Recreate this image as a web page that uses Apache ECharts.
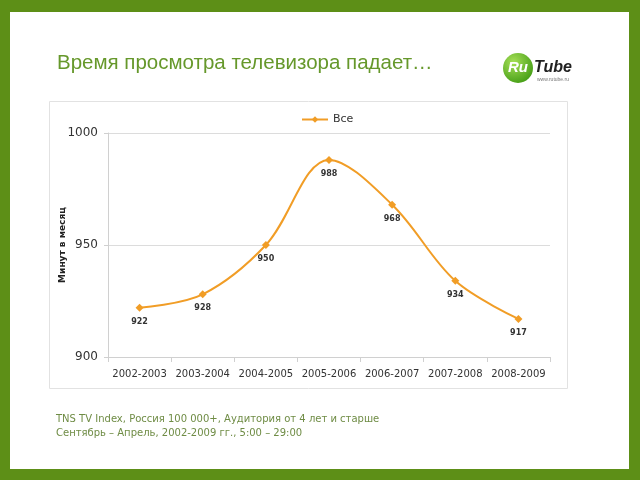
<!DOCTYPE html>
<html>
<head>
<meta charset="utf-8">
<script src="https://cdn.jsdelivr.net/npm/echarts@6/dist/echarts.min.js"></script>
<style>
  html, body { margin: 0; padding: 0; background: #5d8f17; }
  #chart { width: 640px; height: 480px; }
</style>
</head>
<body>
<div id="chart"></div>
<script>
// seasons on the x axis
var seasons = ['2002-2003', '2003-2004', '2004-2005', '2005-2006', '2006-2007', '2007-2008', '2008-2009'];
// minutes per month, all viewers
var minutes = [922, 928, 950, 988, 968, 934, 917];
var yTicks = [900, 950, 1000];

var green = '#5d8f17';
var orange = '#f19d26';

var chart = echarts.init(document.getElementById('chart'));

var option = {
  backgroundColor: green,
  animation: false,
  graphic: [
    // white page
    { type: 'rect', shape: { x: 10, y: 12, width: 619, height: 457 }, style: { fill: '#fff' }, z: -10 },
    // chart frame
    { type: 'rect', shape: { x: 49.5, y: 101.5, width: 518, height: 287 }, style: { fill: '#fff', stroke: '#e2e2e2', lineWidth: 1 }, z: -5 },
    // title
    { type: 'text', left: 57, top: 53, style: { text: 'Время просмотра телевизора падает…', fill: '#66982b', font: '20.5px "Liberation Sans", Arial, sans-serif' } },
    // y axis name
    { type: 'text', x: 63, y: 245, rotation: Math.PI / 2, style: { text: 'Минут в месяц', fill: '#222', font: 'bold 9px "DejaVu Sans", sans-serif', align: 'center', verticalAlign: 'middle' } },
    // footnote
    { type: 'text', left: 56, top: 412, style: { text: 'TNS TV Index, Россия 100 000+, Аудитория от 4 лет и старше\nСентябрь – Апрель, 2002-2009 гг., 5:00 – 29:00', fill: '#6f8c45', font: '10px "DejaVu Sans", Verdana, sans-serif', lineHeight: 14 } },
    // logo
    { type: 'circle', shape: { cx: 518, cy: 68, r: 15 }, style: { fill: new echarts.graphic.RadialGradient(0.35, 0.3, 0.8, [{ offset: 0, color: '#a6df57' }, { offset: 1, color: '#3f9a12' }]) } },
    { type: 'text', x: 518, y: 68, style: { text: 'Ru', fill: '#fff', font: 'italic bold 15px "Liberation Sans", Arial, sans-serif', align: 'center', verticalAlign: 'middle' } },
    { type: 'text', x: 534, y: 68, style: { text: 'Tube', fill: '#222', font: 'italic bold 16px "Liberation Sans", Arial, sans-serif', verticalAlign: 'middle' } },
    { type: 'text', x: 537, y: 80, style: { text: 'www.rutube.ru', fill: '#777', font: '5px "Liberation Sans", Arial, sans-serif', verticalAlign: 'middle' } }
  ],
  legend: {
    top: 109,
    left: 296,
    itemWidth: 26,
    itemHeight: 8,
    textStyle: { color: '#333', fontSize: 11, fontFamily: 'DejaVu Sans' },
    data: ['Все']
  },
  grid: { left: 108, right: 90, top: 133, bottom: 123 },
  xAxis: {
    type: 'category',
    data: seasons,
    boundaryGap: true,
    axisLine: { lineStyle: { color: '#d0d0d0' } },
    axisTick: { show: true, length: 5, lineStyle: { color: '#d0d0d0' } },
    axisLabel: { interval: 0, color: '#333', fontSize: 10, fontFamily: 'DejaVu Sans', margin: 12 }
  },
  yAxis: {
    type: 'value',
    min: yTicks[0],
    max: yTicks[yTicks.length - 1],
    interval: 50,
    axisLine: { show: true, lineStyle: { color: '#d0d0d0' } },
    axisTick: { show: true, length: 4, lineStyle: { color: '#d0d0d0' } },
    axisLabel: { color: '#333', fontSize: 12, fontFamily: 'DejaVu Sans', margin: 10, formatter: function (v) { return String(v); } },
    splitLine: { lineStyle: { color: '#dcdcdc' } }
  },
  series: [{
    name: 'Все',
    type: 'line',
    data: minutes,
    smooth: 0.35,
    symbol: 'diamond',
    symbolSize: 8,
    lineStyle: { color: orange, width: 2 },
    itemStyle: { color: orange },
    label: {
      show: true,
      position: 'bottom',
      distance: 6,
      color: '#333',
      fontSize: 8,
      fontWeight: 'bold',
      fontFamily: 'DejaVu Sans'
    }
  }]
};

chart.setOption(option);
</script>
</body>
</html>
